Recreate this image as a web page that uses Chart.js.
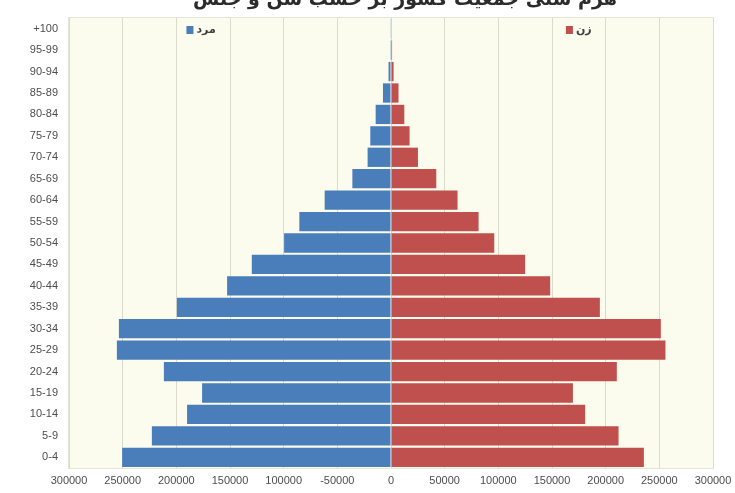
<!DOCTYPE html>
<html>
<head>
<meta charset="utf-8">
<script src="https://cdn.jsdelivr.net/npm/chart.js@4/dist/chart.umd.min.js"></script>
<style>
  html, body { margin: 0; padding: 0; background: #ffffff; }
  #wrap { width: 735px; height: 493px; position: relative; }
</style>
</head>
<body>
<div id="wrap"><canvas id="pyramidChart" width="735" height="493"></canvas></div>
<script>
var ageGroups = ["+100", "95-99", "90-94", "85-89", "80-84", "75-79", "70-74", "65-69", "60-64", "55-59", "50-54",
                 "45-49", "40-44", "35-39", "30-34", "25-29", "20-24", "15-19", "10-14", "5-9", "0-4"];

var maleValues = [300, 700, 2300, 7500, 14300, 19300, 21800, 36000, 61800, 85400, 99600,
                  129700, 152700, 199500, 253500, 255400, 211600, 176000, 190000, 222800, 250500];

var femaleValues = [500, 1000, 2400, 7000, 12400, 17300, 25100, 42200, 62000, 81600, 96200,
                    125000, 148300, 194600, 251400, 255700, 210400, 169500, 180900, 212000, 235600];

var xTickLabels = ["300000", "250000", "200000", "150000", "100000", "-50000", "0",
                   "50000", "100000", "150000", "200000", "250000", "300000"];

var maleLabel = "مرد";
var femaleLabel = "زن";
var chartTitle = "هرم سنی جمعیت کشور بر حسب سن و جنس";

var maleColor = "#4a7ebb";
var femaleColor = "#c0504d";

var ctx = document.getElementById('pyramidChart').getContext('2d');

// plot background + cut-off title + the two legend keys inside the plot
var pyramidDecor = {
    id: 'pyramidDecor',
    beforeDraw: function(chart) {
        var a = chart.chartArea;
        var c = chart.ctx;
        c.save();
        c.fillStyle = "#fbfcee";
        c.fillRect(a.left, a.top, a.right - a.left, a.bottom - a.top);
        c.strokeStyle = "#e4e6d6";
        c.lineWidth = 1;
        c.strokeRect(a.left - 0.5, a.top - 0.5, a.right - a.left + 1, a.bottom - a.top + 1);
        c.restore();
    },
    afterDraw: function(chart) {
        var c = chart.ctx;
        var x = chart.scales.x;
        var a = chart.chartArea;
        c.save();
        c.fillStyle = "#2b2b2b";
        c.font = "bold 19px 'DejaVu Sans'";
        c.textAlign = "center";
        c.textBaseline = "alphabetic";
        c.fillText(chartTitle, 405, 5);

        var ly = a.top + 12;
        c.font = "bold 11px 'DejaVu Sans'";
        c.textBaseline = "middle";
        c.textAlign = "left";

        var mx = x.getPixelForValue(-185000);
        c.fillStyle = chart.data.datasets[0].backgroundColor;
        c.fillRect(mx - 6, ly - 4, 7, 8);
        c.fillStyle = "#404040";
        c.fillText(chart.data.datasets[0].label, mx + 4, ly);

        var fx = x.getPixelForValue(163000);
        c.fillStyle = chart.data.datasets[1].backgroundColor;
        c.fillRect(fx, ly - 4, 7, 8);
        c.fillStyle = "#404040";
        c.fillText(chart.data.datasets[1].label, fx + 10, ly);
        c.restore();
    }
};

var thePyramidChart = new Chart(ctx, {
    type: 'bar',
    data: {
        labels: ageGroups,
        datasets: [
            {
                label: maleLabel,
                backgroundColor: maleColor,
                borderWidth: 0,
                barPercentage: 0.9,
                categoryPercentage: 1.0,
                data: maleValues.map(function(v) { return -v; })
            },
            {
                label: femaleLabel,
                backgroundColor: femaleColor,
                borderWidth: 0,
                barPercentage: 0.9,
                categoryPercentage: 1.0,
                data: femaleValues
            }
        ]
    },
    options: {
        indexAxis: 'y',
        responsive: false,
        animation: false,
        layout: { padding: { left: 0, right: 22, top: 18, bottom: 0 } },
        plugins: {
            legend: { display: false },
            tooltip: { enabled: false }
        },
        scales: {
            x: {
                stacked: true,
                min: -300000,
                max: 300000,
                afterFit: function(scale) {
                    scale.height = 25;
                    scale.paddingLeft = 0;
                    scale.paddingRight = 0;
                },
                border: { display: false },
                grid: { color: "#dadbcb", lineWidth: 1, drawTicks: false },
                ticks: {
                    stepSize: 50000,
                    padding: 6,
                    color: "#4d4d4d",
                    font: { family: "'Liberation Sans'", size: 11 },
                    maxRotation: 0,
                    autoSkip: false,
                    callback: function(value, index) { return xTickLabels[index]; }
                }
            },
            y: {
                stacked: true,
                afterFit: function(scale) { scale.width = 69; },
                border: { display: false },
                grid: { display: false, drawTicks: false },
                ticks: {
                    padding: 11,
                    color: "#4d4d4d",
                    font: { family: "'Liberation Sans'", size: 11 },
                    autoSkip: false
                }
            }
        }
    },
    plugins: [pyramidDecor]
});
</script>
</body>
</html>
